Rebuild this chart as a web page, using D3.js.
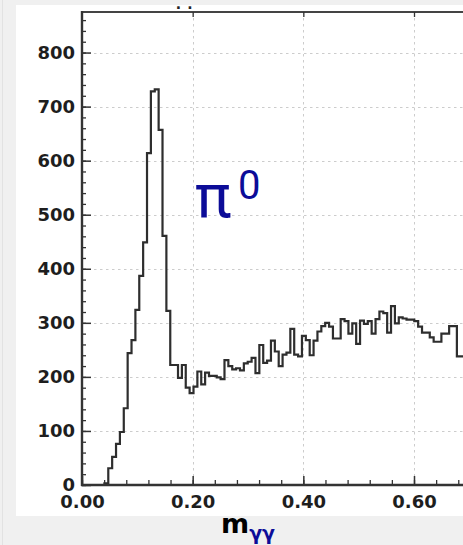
<!DOCTYPE html>
<html>
<head>
<meta charset="utf-8">
<script src="https://cdn.jsdelivr.net/npm/d3@7"></script>
<style>
  html, body { margin: 0; padding: 0; background: #f0f0f0; }
  svg { display: block; }
</style>
</head>
<body>
<svg id="chart" width="463" height="545"></svg>
<script>
// ---- data ----
const binStart = 0.0405;
const binWidth = 0.007;
const counts = [
  3, 31, 52, 76, 98, 142, 244, 268, 324, 387,
  449, 614, 728, 732, 657, 461, 322, 222, 222, 198,
  222, 180, 170, 182, 210, 186, 208, 202, 202, 199,
  196, 231, 220, 214, 216, 212, 225, 228, 235, 207,
  259, 226, 230, 267, 247, 220, 241, 245, 289, 241,
  238, 276, 268, 240, 267, 284, 294, 300, 293, 271,
  271, 307, 303, 280, 299, 261, 304, 298, 303, 280,
  307, 321, 318, 282, 331, 299, 310, 308, 306, 306,
  303, 293, 282, 282, 273, 265, 265, 280, 280, 294,
  294, 238, 238
];
const yTicks = [0, 100, 200, 300, 400, 500, 600, 700, 800];
const yMinorTicks = d3.range(0, 861, 20);
const xTicks = [0, 0.2, 0.4, 0.6];
const xTickLabels = ["0.00", "0.20", "0.40", "0.60"];
const xMinorTicks = d3.range(0, 0.75, 0.04);
const peakLabel = "π";
const peakSup = "0";
const xTitleMain = "m";
const xTitleSub = "γγ";

// ---- layout ----
(function draw() {
const svg = d3.select("#chart");
const pLeft = 82, pRight = 497, pTop = 12, pBottom = 485;
const x = d3.scaleLinear().domain([0, 0.75]).range([pLeft, pRight]);
const y = d3.scaleLinear().domain([0, 875]).range([pBottom, pTop]);
const font = "'DejaVu Sans', Verdana, sans-serif";
const inkDark = "#333";

// white panel
svg.append("rect").attr("x", 16).attr("y", 5).attr("width", 463 - 16 + 10).attr("height", 511)
  .attr("fill", "#ffffff");
svg.append("line").attr("x1", 2.5).attr("x2", 2.5).attr("y1", 0).attr("y2", 545)
  .attr("stroke", "#e2e2e2").attr("stroke-width", 1);

// gridlines
const grid = svg.append("g").attr("stroke", "#cccccc").attr("stroke-width", 1)
  .attr("stroke-dasharray", "2.5,3.5");
grid.selectAll("line.h").data(yTicks.filter(d => d > 0)).join("line")
  .attr("x1", pLeft).attr("x2", pRight)
  .attr("y1", d => Math.round(y(d)) + 0.5).attr("y2", d => Math.round(y(d)) + 0.5);
grid.selectAll("line.v").data(xTicks.filter(d => d > 0)).join("line")
  .attr("y1", pTop).attr("y2", pBottom)
  .attr("x1", d => Math.round(x(d)) + 0.5).attr("x2", d => Math.round(x(d)) + 0.5);

// histogram step line
const pts = [[binStart, 0]];
counts.forEach((c, i) => {
  const x0 = binStart + i * binWidth, x1 = x0 + binWidth;
  pts.push([x0, c]); pts.push([x1, c]);
});
const line = d3.line().x(d => x(d[0])).y(d => y(d[1]));
svg.append("path").attr("d", line(pts)).attr("fill", "none")
  .attr("stroke", "#2e2e2e").attr("stroke-width", 2.2).attr("stroke-linejoin", "miter");

// frame top & right
svg.append("line").attr("x1", pLeft).attr("x2", pRight).attr("y1", pTop).attr("y2", pTop)
  .attr("stroke", "#444").attr("stroke-width", 2);
svg.append("line").attr("x1", pRight).attr("x2", pRight).attr("y1", pTop).attr("y2", pBottom)
  .attr("stroke", "#444").attr("stroke-width", 2);

// minor ticks
const yMinor = svg.append("g").attr("transform", `translate(${pLeft},0)`)
  .call(d3.axisLeft(y).tickValues(yMinorTicks).tickSizeInner(-4).tickSizeOuter(0).tickFormat(""));
const xMinor = svg.append("g").attr("transform", `translate(0,${pBottom})`)
  .call(d3.axisBottom(x).tickValues(xMinorTicks).tickSizeInner(-5).tickSizeOuter(0).tickFormat(""));
[yMinor, xMinor].forEach(g => {
  g.select(".domain").remove();
  g.selectAll(".tick line").attr("stroke", inkDark).attr("stroke-width", 1.3);
});

// major axes
const yAxis = svg.append("g").attr("transform", `translate(${pLeft},0)`)
  .call(d3.axisLeft(y).tickValues(yTicks).tickSizeInner(-9).tickSizeOuter(0).tickPadding(7)
    .tickFormat(d3.format("d")));
const xAxis = svg.append("g").attr("transform", `translate(0,${pBottom})`)
  .call(d3.axisBottom(x).tickValues(xTicks).tickSizeInner(-9).tickSizeOuter(0).tickPadding(10)
    .tickFormat((d, i) => xTickLabels[i]));
const topAxis = svg.append("g").attr("transform", `translate(0,${pTop})`)
  .call(d3.axisTop(x).tickValues(xTicks.filter(d => d > 0)).tickSizeInner(-5).tickSizeOuter(0).tickFormat(""));
topAxis.select(".domain").remove();
topAxis.selectAll(".tick line").attr("stroke", inkDark).attr("stroke-width", 1.3);

[yAxis, xAxis].forEach(g => {
  g.select(".domain").remove();
  g.selectAll(".tick line").attr("stroke", inkDark).attr("stroke-width", 1.5);
  g.selectAll(".tick text").attr("fill", "#1e1e1e").attr("font-family", font)
    .attr("font-size", 18).attr("font-weight", "bold");
});
svg.append("line").attr("x1", pLeft).attr("x2", pLeft).attr("y1", pTop - 1).attr("y2", pBottom + 1)
  .attr("stroke", inkDark).attr("stroke-width", 2.4);
svg.append("line").attr("x1", pLeft - 1).attr("x2", pRight).attr("y1", pBottom).attr("y2", pBottom)
  .attr("stroke", inkDark).attr("stroke-width", 2.4);

// partially visible title dots above the frame
svg.append("text").attr("x", x(0.19)).attr("y", 9).attr("text-anchor", "middle")
  .attr("font-family", font).attr("font-size", 14).attr("font-weight", "bold")
  .attr("fill", "#222").attr("letter-spacing", 6).text("..");

// pi0 label
const lab = svg.append("text").attr("font-family", "Roboto, 'Noto Sans', sans-serif").attr("fill", "#0c0c98");
lab.append("tspan").attr("x", 195).attr("y", 217).attr("font-size", 61).text(peakLabel);
lab.append("tspan").attr("x", 238).attr("y", 199).attr("font-size", 40).text(peakSup);

// x title
const xt = svg.append("text").attr("font-family", font).attr("font-weight", "bold");
xt.append("tspan").attr("x", 221).attr("y", 533).attr("font-size", 27).attr("fill", "#000").text(xTitleMain);
xt.append("tspan").attr("font-size", 19).attr("dy", 7).attr("fill", "#0c0c98").text(xTitleSub);
})();
</script>
</body>
</html>
